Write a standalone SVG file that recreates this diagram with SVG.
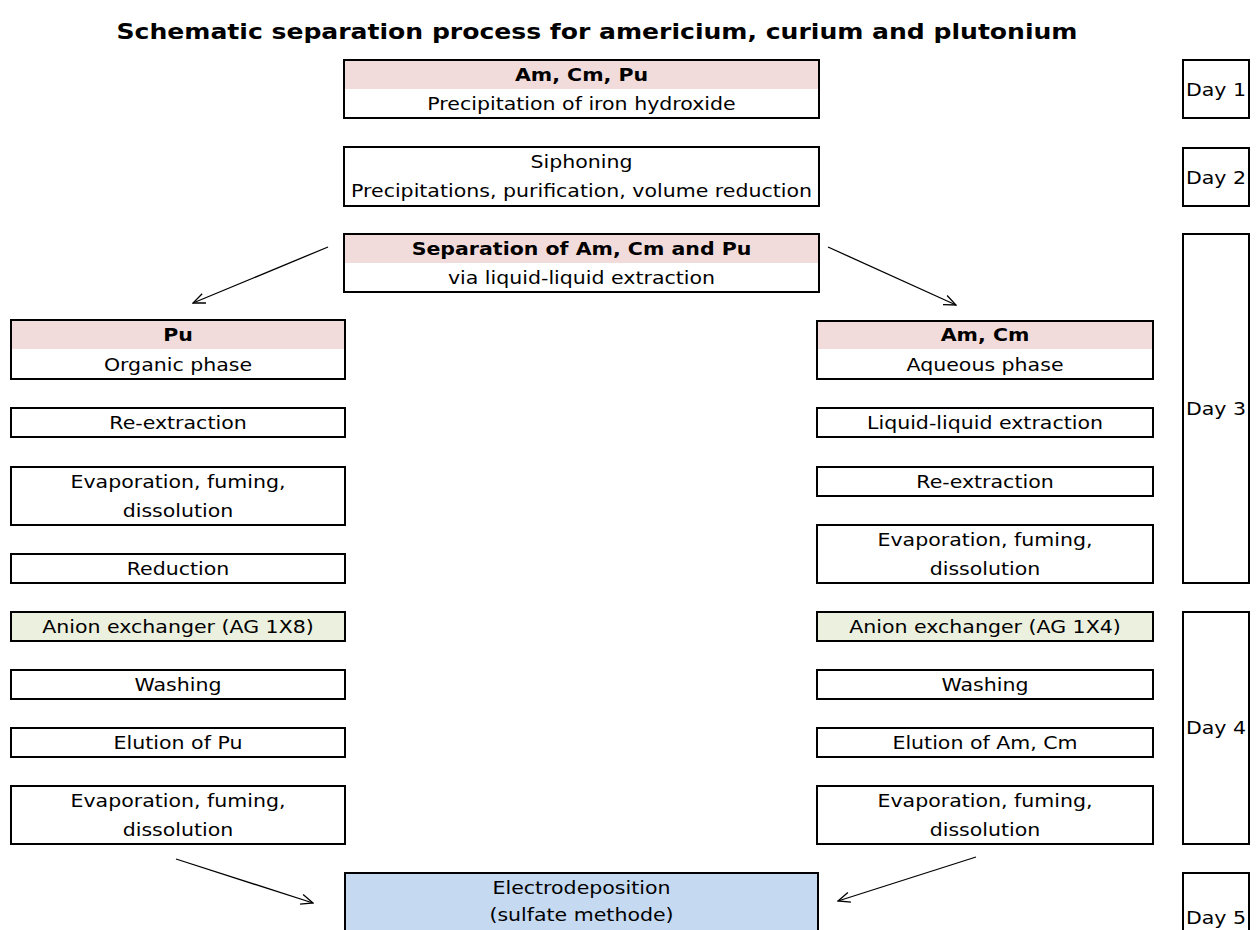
<svg xmlns="http://www.w3.org/2000/svg" width="1258" height="930" viewBox="0 0 1258 930">
<style>
.b{fill:#fff;stroke:#000;stroke-width:2}
.hd{fill:#F2DCDB}
.gr{fill:#EBF1DE;stroke:#000;stroke-width:2}
.bl{fill:#C5D9F1;stroke:#000;stroke-width:2}
.nb{fill:none;stroke:#000;stroke-width:2}
text{font-family:"DejaVu Sans","Liberation Sans",sans-serif;font-size:18px;fill:#000;text-anchor:middle}
.bo{font-weight:bold}
.ti{font-weight:bold;font-size:22px}
.ar{fill:none;stroke:#000;stroke-width:1.3}
</style>
<defs>
<marker id="ah" viewBox="0 0 14 12" refX="13" refY="6" markerWidth="14" markerHeight="12" markerUnits="userSpaceOnUse" orient="auto">
<path d="M1,1 L13,6 L1,11" fill="none" stroke="#000" stroke-width="1.3"/>
</marker>
</defs>
<rect width="1258" height="930" fill="#fff"/>
<text class="ti" transform="translate(597,39) scale(1.14,1)">Schematic separation process for americium, curium and plutonium</text>

<g id="n-start">
<rect x="344" y="60" width="475" height="58" class="b"/>
<rect x="345" y="61" width="473" height="28" class="hd"/>
<text class="bo" transform="translate(581.5,81) scale(1.14,1)">Am, Cm, Pu</text>
<text transform="translate(581.5,110) scale(1.14,1)">Precipitation of iron hydroxide</text>
</g>
<g id="n-siphon">
<rect x="344" y="147" width="475" height="59" class="b"/>
<text transform="translate(581.5,168) scale(1.14,1)">Siphoning</text>
<text transform="translate(581.5,197) scale(1.14,1)">Precipitations, purification, volume reduction</text>
</g>
<g id="n-sep">
<rect x="344" y="234" width="475" height="58" class="b"/>
<rect x="345" y="235" width="473" height="28" class="hd"/>
<text class="bo" transform="translate(581.5,255) scale(1.14,1)">Separation of Am, Cm and Pu</text>
<text transform="translate(581.5,284) scale(1.14,1)">via liquid-liquid extraction</text>
</g>

<g id="n-pu">
<rect x="11" y="320" width="334" height="59" class="b"/>
<rect x="12" y="321" width="332" height="28" class="hd"/>
<text class="bo" transform="translate(178,341) scale(1.14,1)">Pu</text>
<text transform="translate(178,370.5) scale(1.14,1)">Organic phase</text>
</g>
<g id="n-pu-reext">
<rect x="11" y="408" width="334" height="29" class="b"/>
<text transform="translate(178,429) scale(1.14,1)">Re-extraction</text>
</g>
<g id="n-pu-evap1">
<rect x="11" y="467" width="334" height="58" class="b"/>
<text transform="translate(178,488) scale(1.14,1)">Evaporation, fuming,</text>
<text transform="translate(178,517) scale(1.14,1)">dissolution</text>
</g>
<g id="n-pu-red">
<rect x="11" y="554" width="334" height="29" class="b"/>
<text transform="translate(178,575) scale(1.14,1)">Reduction</text>
</g>
<g id="n-pu-anion">
<rect x="11" y="612" width="334" height="29" class="gr"/>
<text transform="translate(178,633) scale(1.14,1)">Anion exchanger (AG 1X8)</text>
</g>
<g id="n-pu-wash">
<rect x="11" y="670" width="334" height="29" class="b"/>
<text transform="translate(178,691) scale(1.14,1)">Washing</text>
</g>
<g id="n-pu-elu">
<rect x="11" y="728" width="334" height="29" class="b"/>
<text transform="translate(178,749) scale(1.14,1)">Elution of Pu</text>
</g>
<g id="n-pu-evap2">
<rect x="11" y="786" width="334" height="58" class="b"/>
<text transform="translate(178,807) scale(1.14,1)">Evaporation, fuming,</text>
<text transform="translate(178,836) scale(1.14,1)">dissolution</text>
</g>

<g id="n-am">
<rect x="817" y="321" width="336" height="58" class="b"/>
<rect x="818" y="322" width="334" height="27" class="hd"/>
<text class="bo" transform="translate(985,341) scale(1.14,1)">Am, Cm</text>
<text transform="translate(985,370.5) scale(1.14,1)">Aqueous phase</text>
</g>
<g id="n-am-lle">
<rect x="817" y="408" width="336" height="29" class="b"/>
<text transform="translate(985,429) scale(1.14,1)">Liquid-liquid extraction</text>
</g>
<g id="n-am-reext">
<rect x="817" y="467" width="336" height="29" class="b"/>
<text transform="translate(985,488) scale(1.14,1)">Re-extraction</text>
</g>
<g id="n-am-evap1">
<rect x="817" y="525" width="336" height="58" class="b"/>
<text transform="translate(985,546) scale(1.14,1)">Evaporation, fuming,</text>
<text transform="translate(985,575) scale(1.14,1)">dissolution</text>
</g>
<g id="n-am-anion">
<rect x="817" y="612" width="336" height="29" class="gr"/>
<text transform="translate(985,633) scale(1.14,1)">Anion exchanger (AG 1X4)</text>
</g>
<g id="n-am-wash">
<rect x="817" y="670" width="336" height="29" class="b"/>
<text transform="translate(985,691) scale(1.14,1)">Washing</text>
</g>
<g id="n-am-elu">
<rect x="817" y="728" width="336" height="29" class="b"/>
<text transform="translate(985,749) scale(1.14,1)">Elution of Am, Cm</text>
</g>
<g id="n-am-evap2">
<rect x="817" y="786" width="336" height="58" class="b"/>
<text transform="translate(985,807) scale(1.14,1)">Evaporation, fuming,</text>
<text transform="translate(985,836) scale(1.14,1)">dissolution</text>
</g>

<g id="n-electro">
<rect x="345" y="873" width="473" height="90" class="bl"/>
<text transform="translate(581.5,894) scale(1.14,1)">Electrodeposition</text>
<text transform="translate(581.5,921) scale(1.14,1)">(sulfate methode)</text>
</g>

<g id="n-day1">
<rect x="1183" y="60" width="66" height="58" class="b"/>
<text transform="translate(1216,95.5) scale(1.14,1)">Day 1</text>
</g>
<g id="n-day2">
<rect x="1183" y="148" width="66" height="58" class="b"/>
<text transform="translate(1216,183.5) scale(1.14,1)">Day 2</text>
</g>
<g id="n-day3">
<rect x="1183" y="234" width="66" height="349" class="b"/>
<text transform="translate(1216,415) scale(1.14,1)">Day 3</text>
</g>
<g id="n-day4">
<rect x="1183" y="612" width="66" height="232" class="b"/>
<text transform="translate(1216,734) scale(1.14,1)">Day 4</text>
</g>
<g id="n-day5">
<rect x="1183" y="873" width="66" height="90" class="b"/>
<text transform="translate(1216,924) scale(1.14,1)">Day 5</text>
</g>

<g id="connectors">
<line x1="328" y1="247" x2="193" y2="303" class="ar" marker-end="url(#ah)"/>
<line x1="828" y1="247" x2="956" y2="305" class="ar" marker-end="url(#ah)"/>
<line x1="176" y1="859" x2="313" y2="903" class="ar" marker-end="url(#ah)"/>
<line x1="976" y1="857" x2="838" y2="901" class="ar" marker-end="url(#ah)"/>
</g>
</svg>
